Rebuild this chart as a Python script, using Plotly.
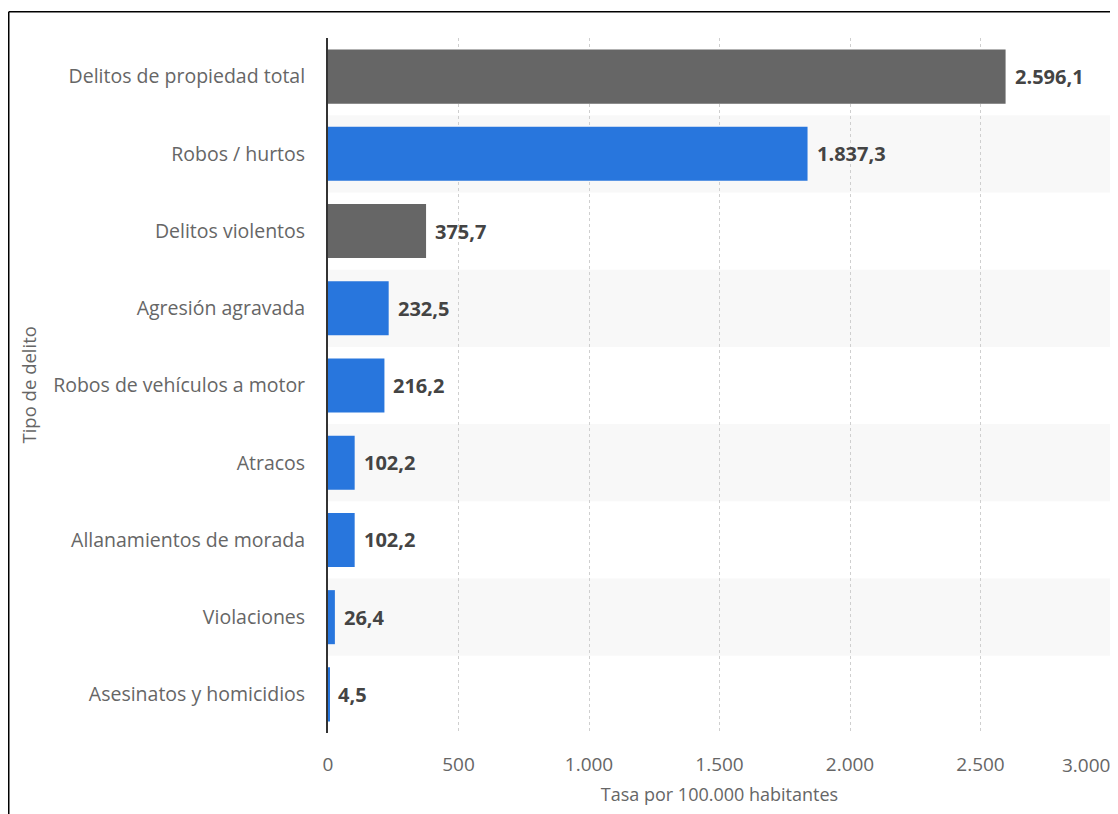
import plotly.graph_objects as go

categories = [
    "Delitos de propiedad total",
    "Robos / hurtos",
    "Delitos violentos",
    "Agresión agravada",
    "Robos de vehículos a motor",
    "Atracos",
    "Allanamientos de morada",
    "Violaciones",
    "Asesinatos y homicidios",
]
values = [2596.1, 1837.3, 375.7, 232.5, 216.2, 102.2, 102.2, 26.4, 4.5]
is_total = [True, False, True, False, False, False, False, False, False]
tick_vals = [0, 500, 1000, 1500, 2000, 2500, 3000]
tick_text = ["0", "500", "1.000", "1.500", "2.000", "2.500", ""]
last_tick_label = "3.000"

GRAY = "#666666"
BLUE = "#2876dd"
FONT = "Open Sans"

# page body has an 8px margin; figure coordinates are screen - 8
W, H = 1110, 806
L, T = 320, 30
PW, PH = 783, 695
R = W - L - PW
B = H - T - PH


def px_x(p):
    return (p - L) / PW


def px_y(p):
    return (T + PH - p) / PH


def es(v):
    s = f"{v:,.1f}"
    return s.replace(",", "X").replace(".", ",").replace("X", ".")


colors = [GRAY if t else BLUE for t in is_total]

fig = go.Figure()
fig.add_trace(go.Bar(
    y=categories,
    x=values,
    orientation="h",
    marker=dict(color=colors, line=dict(width=0)),
    hoverinfo="skip",
))

shapes = []
n = len(categories)
for i in range(n):
    if i % 2 == 1:
        shapes.append(dict(
            type="rect", xref="paper", yref="y",
            x0=0, x1=px_x(W), y0=i - 0.5, y1=i + 0.5,
            fillcolor="#f8f8f8", line=dict(width=0), layer="below",
        ))
# frame lines (top and left)
shapes.append(dict(type="line", xref="paper", yref="paper",
                   x0=px_x(0.75), x1=px_x(W), y0=px_y(3.75), y1=px_y(3.75),
                   line=dict(color="#000000", width=1.5)))
shapes.append(dict(type="line", xref="paper", yref="paper",
                   x0=px_x(0.75), x1=px_x(0.75), y0=px_y(3.75), y1=px_y(H),
                   line=dict(color="#000000", width=1.5)))

annotations = []
for c, v in zip(categories, values):
    annotations.append(dict(
        x=v, xref="x", y=c, yref="y", text=es(v), showarrow=False,
        xanchor="left", yanchor="middle", xshift=7,
        font=dict(family=FONT, size=20, color="#444444", weight="bold"),
    ))
annotations.append(dict(
    x=tick_vals[-1], xref="x", y=0, yref="paper",
    text=last_tick_label, showarrow=False,
    xanchor="right", yanchor="middle", yshift=-32, xshift=1,
    font=dict(family=FONT, size=19, color="#666666"),
))
annotations.append(dict(
    x=px_x(20), xref="paper", y=0.5, yref="paper",
    text="Tipo de delito", showarrow=False, textangle=-90,
    xanchor="center", yanchor="middle",
    font=dict(family=FONT, size=18.5, color="#666666"),
))

fig.update_layout(
    width=W, height=H,
    margin=dict(l=L, r=R, t=T, b=B, autoexpand=False),
    paper_bgcolor="white",
    plot_bgcolor="rgba(0,0,0,0)",
    separators=",.",
    showlegend=False,
    bargap=0.3,
    shapes=shapes,
    annotations=annotations,
    font=dict(family=FONT, color="#666666"),
    xaxis=dict(
        range=[0, 3000],
        tickvals=tick_vals,
        ticktext=tick_text,
        showgrid=True,
        gridcolor="#cfcfcf",
        griddash="dot",
        gridwidth=1,
        zeroline=False,
        showline=False,
        ticks="",
        tickfont=dict(family=FONT, size=19, color="#666666"),
        ticklabelstandoff=18,
        title=dict(text="Tasa por 100.000 habitantes",
                   font=dict(family=FONT, size=18, color="#666666"),
                   standoff=12),
        fixedrange=True,
    ),
    yaxis=dict(
        autorange="reversed",
        showgrid=False,
        zeroline=False,
        showline=True,
        linecolor="#333333",
        linewidth=2,
        ticks="",
        ticklabelstandoff=17,
        tickfont=dict(family=FONT, size=19.5, color="#666666"),
        fixedrange=True,
    ),
)

fig.write_html("out.html")
